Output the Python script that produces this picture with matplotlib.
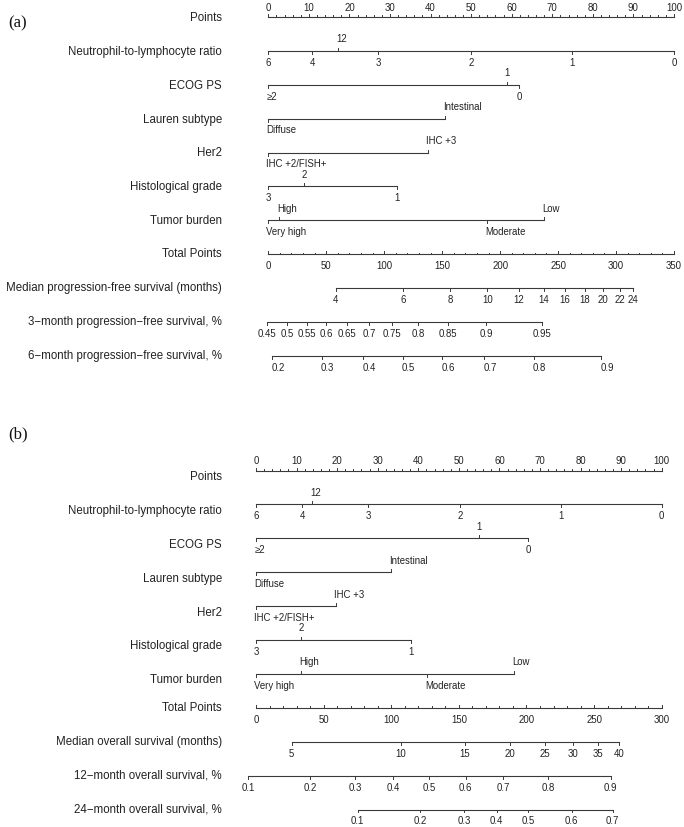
import numpy as np
import matplotlib
matplotlib.use('Agg')
import matplotlib.pyplot as plt

plt.rcParams['font.family'] = ['Liberation Sans', 'DejaVu Sans']

# ---------- (a) progression-free survival nomogram ----------
pfs_nlr_labels = ['6', '4', '12', '3', '2', '1', '0']
pfs_nlr_points = [0, 10.8, 17.1, 27.1, 50.0, 74.9, 100]
pfs_ecog_labels = ['≥2', '1', '0']
pfs_ecog_points = [0, 58.8, 61.9]
pfs_lauren_labels = ['Diffuse', 'Intestinal']
pfs_lauren_points = [0, 43.6]
pfs_her2_labels = ['IHC +2/FISH+', 'IHC +3']
pfs_her2_points = [0, 39.3]
pfs_grade_labels = ['3', '2', '1']
pfs_grade_points = [0, 8.9, 31.6]
pfs_burden_labels = ['Very high', 'High', 'Moderate', 'Low']
pfs_burden_points = [0, 2.6, 53.8, 68.0]
pfs_total_max = 350
pfs_median_labels = ['4', '6', '8', '10', '12', '14', '16', '18', '20', '22', '24']
pfs_median_total = [58, 116, 157, 189, 216, 238, 256, 273, 289, 303, 315]
pfs_3m_labels = ['0.45', '0.5', '0.55', '0.6', '0.65', '0.7', '0.75', '0.8', '0.85', '0.9', '0.95']
pfs_3m_total = [-1, 16, 33, 50, 68, 87, 107, 129, 155, 188, 236]
pfs_6m_labels = ['0.2', '0.3', '0.4', '0.5', '0.6', '0.7', '0.8', '0.9']
pfs_6m_total = [3.5, 46, 82, 116, 150, 186, 229, 287]

# ---------- (b) overall survival nomogram ----------
os_nlr_labels = ['6', '4', '12', '3', '2', '1', '0']
os_nlr_points = [0, 11.4, 13.9, 27.7, 50.3, 75.2, 100]
os_ecog_labels = ['≥2', '1', '0']
os_ecog_points = [0, 55.0, 67.0]
os_lauren_labels = ['Diffuse', 'Intestinal']
os_lauren_points = [0, 33.2]
os_her2_labels = ['IHC +2/FISH+', 'IHC +3']
os_her2_points = [0, 19.7]
os_grade_labels = ['3', '2', '1']
os_grade_points = [0, 11.1, 38.2]
os_burden_labels = ['Very high', 'High', 'Moderate', 'Low']
os_burden_points = [0, 11.1, 42.2, 63.6]
os_total_max = 300
os_median_labels = ['5', '10', '15', '20', '25', '30', '35', '40']
os_median_total = [26.4, 107.2, 154.6, 187.8, 213.7, 234.6, 252.7, 268.4]
os_12m_labels = ['0.1', '0.2', '0.3', '0.4', '0.5', '0.6', '0.7', '0.8', '0.9']
os_12m_total = [-5.7, 39.9, 73.2, 101.5, 128.2, 155.1, 182.9, 216.1, 262.3]
os_24m_labels = ['0.1', '0.2', '0.3', '0.4', '0.5', '0.6', '0.7']
os_24m_total = [75.2, 121.3, 154.0, 178.0, 201.4, 233.5, 263.8]

# which level labels sit above the line, per predictor (same in both panels)
above = [['12'], ['1'], ['Intestinal'], ['IHC +3'], ['2'], ['High', 'Low']]

var_names = ['Neutrophil-to-lymphocyte ratio', 'ECOG PS', 'Lauren subtype',
             'Her2', 'Histological grade', 'Tumor burden']

LINE = '#3a3a3a'
TXT = '#222222'
FS_NAME = 8.3
FS_TICK = 6.9
ROW_PX = 33.95
TICK = 3.0 / ROW_PX


def lab(ax, x, y, s, up=False, ha='center', dx=0.0):
    dy = 8.3 if up else -8.6
    ax.annotate(s, xy=(x, y), xytext=(dx, dy), textcoords='offset points',
                ha=ha, va='center', fontsize=FS_TICK, color=TXT)


def name(ax, x, y, s, dy_px=0.0):
    ax.annotate(s, xy=(x, y), xytext=(0, -dy_px * 0.72), textcoords='offset points',
                ha='right', va='center', fontsize=FS_NAME, color=TXT)


def draw_panel(ax, variables, total_max, outcomes, name_x, shift_px):
    # Points scale
    ax.plot([0, 100], [0, 0], color=LINE, lw=0.8)
    for v in np.arange(0, 101, 2):
        t = TICK if v % 10 == 0 else TICK * 0.5
        ax.plot([v, v], [0, -t], color=LINE, lw=0.7)
    for v in np.arange(0, 101, 10):
        ax.annotate(str(v), xy=(v, 0), xytext=(0, 6.6), textcoords='offset points',
                    ha='center', va='center', fontsize=FS_TICK, color=TXT)
    name(ax, name_x, 0, 'Points', shift_px)

    # predictor rows
    for i, (vname, labels, pts, up_list) in enumerate(variables):
        y = i + 1
        ax.plot([min(pts), max(pts)], [y, y], color=LINE, lw=0.8)
        for s, p in zip(labels, pts):
            up = s in up_list
            ax.plot([p, p], [y, y - TICK if up else y + TICK], color=LINE, lw=0.7)
            if len(s) > 1:
                lab(ax, p, y, s, up=up, ha='left', dx=-1.3)
            else:
                lab(ax, p, y, s, up=up)
        name(ax, name_x, y, vname, shift_px)

    # Total points scale
    y = len(variables) + 1
    k = 100.0 / total_max
    ax.plot([0, 100], [y, y], color=LINE, lw=0.8)
    for v in np.arange(0, total_max + 1, 10):
        t = TICK if v % 50 == 0 else TICK * 0.5
        ax.plot([v * k, v * k], [y, y - t], color=LINE, lw=0.7)
    for v in np.arange(0, total_max + 1, 50):
        lab(ax, v * k, y, str(v))
    name(ax, name_x, y, 'Total Points')

    # outcome scales
    for j, (oname, labels, tot, ha) in enumerate(outcomes):
        y = len(variables) + 2 + j
        xs = [t * k for t in tot]
        ax.plot([xs[0], xs[-1]], [y, y], color=LINE, lw=0.8)
        for s, x in zip(labels, xs):
            ax.plot([x, x], [y, y + TICK], color=LINE, lw=0.7)
            lab(ax, x, y, s, ha=ha, dx=-0.5 if ha == 'left' else 0)
        name(ax, name_x, y, oname)


fig = plt.figure(figsize=(6.84, 8.27), dpi=100)

ax_a = fig.add_axes([0, 0.5, 1, 0.5])
ax_a.set_xlim(-268.3 / 4.057, (684 - 268.3) / 4.057)
ax_a.set_ylim((413.5 - 16.7) / ROW_PX, -16.7 / ROW_PX)
ax_a.axis('off')
draw_panel(ax_a,
           list(zip(var_names,
                    [pfs_nlr_labels, pfs_ecog_labels, pfs_lauren_labels,
                     pfs_her2_labels, pfs_grade_labels, pfs_burden_labels],
                    [pfs_nlr_points, pfs_ecog_points, pfs_lauren_points,
                     pfs_her2_points, pfs_grade_points, pfs_burden_points],
                    above)),
           pfs_total_max,
           [('Median progression-free survival (months)', pfs_median_labels, pfs_median_total, 'center'),
            ('3\u2212month progression\u2212free survival, %', pfs_3m_labels, pfs_3m_total, 'center'),
            ('6\u2212month progression\u2212free survival, %', pfs_6m_labels, pfs_6m_total, 'left')],
           (222 - 268.3) / 4.057, 1.0)

ax_b = fig.add_axes([0, 0, 1, 0.5])
ax_b.set_xlim(-256 / 4.057, (684 - 256) / 4.057)
ax_b.set_ylim((827 - 470.5) / 33.9, -(470.5 - 413.5) / 33.9)
ax_b.axis('off')
draw_panel(ax_b,
           list(zip(var_names,
                    [os_nlr_labels, os_ecog_labels, os_lauren_labels,
                     os_her2_labels, os_grade_labels, os_burden_labels],
                    [os_nlr_points, os_ecog_points, os_lauren_points,
                     os_her2_points, os_grade_points, os_burden_points],
                    above)),
           os_total_max,
           [('Median overall survival (months)', os_median_labels, os_median_total, 'center'),
            ('12\u2212month overall survival, %', os_12m_labels, os_12m_total, 'center'),
            ('24\u2212month overall survival, %', os_24m_labels, os_24m_total, 'center')],
           (222 - 256) / 4.057, 6.5)

fig.text(8 / 684, 1 - 23 / 827, '(a)', ha='left', va='center', fontsize=12,
         family='Liberation Serif', color='#111111')
fig.text(8 / 684, 1 - 434 / 827, '(b)', ha='left', va='center', fontsize=12,
         family='Liberation Serif', color='#111111')

fig.savefig('out.png', dpi=100)
